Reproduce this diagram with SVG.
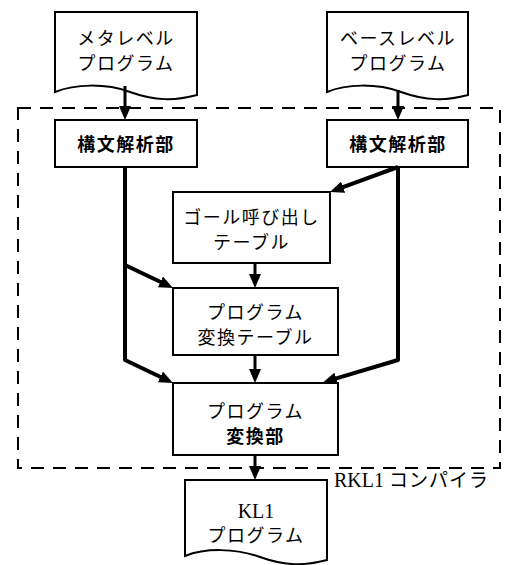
<svg xmlns="http://www.w3.org/2000/svg" width="505" height="565" viewBox="0 0 505 565">
<style>
.shape{fill:#fff;stroke:#000;stroke-width:2}
.jp{font-family:"Noto Sans CJK JP","Noto Sans",sans-serif;font-size:18px;text-anchor:middle;fill:#000;letter-spacing:1.5px}
.b{font-weight:bold}
.rm{font-family:"Liberation Serif",serif;font-size:20px;fill:#000}
.thick{fill:none;stroke:#000;stroke-width:4;stroke-linejoin:round}
.thin{fill:none;stroke:#000;stroke-width:3}
</style>
<defs>
<marker id="ah" markerUnits="userSpaceOnUse" markerWidth="14" markerHeight="12" refX="6" refY="6" orient="auto">
<path d="M0,0 L14,6 L0,12 z" fill="#000"/>
</marker>
</defs>
<rect id="compiler" x="18" y="108" width="482" height="360" fill="none" stroke="#000" stroke-width="2" stroke-dasharray="13 9"/>
<g id="doc-meta">
<path class="shape" d="M55,12 H197 V95 C175,101 155,101 130,92 C105,83 75,84 55,92 Z"/>
<text class="jp" x="126" y="45">メタレベル</text>
<text class="jp" x="126" y="70">プログラム</text>
</g>
<g id="doc-base">
<path class="shape" d="M327,12 H468 V95 C446,101 426,101 401,92 C376,83 346,84 327,92 Z"/>
<text class="jp" x="398" y="45">ベースレベル</text>
<text class="jp" x="398" y="70">プログラム</text>
</g>
<g id="parser-left">
<rect class="shape" x="55" y="120" width="142" height="47"/>
<text class="jp b" x="126" y="151">構文解析部</text>
</g>
<g id="parser-right">
<rect class="shape" x="327" y="120" width="141" height="47"/>
<text class="jp b" x="398" y="151">構文解析部</text>
</g>
<g id="goal-table">
<rect class="shape" x="173" y="192" width="157" height="71"/>
<text class="jp" x="251.5" y="224">ゴール呼び出し</text>
<text class="jp" x="251.5" y="249">テーブル</text>
</g>
<g id="conv-table">
<rect class="shape" x="173" y="288" width="165" height="67"/>
<text class="jp" x="255.5" y="319">プログラム</text>
<text class="jp" x="255.5" y="344">変換テーブル</text>
</g>
<g id="converter">
<rect class="shape" x="173" y="383" width="165" height="72"/>
<text class="jp" x="255.5" y="418">プログラム</text>
<text class="jp b" x="255.5" y="443">変換部</text>
</g>
<g id="doc-kl1">
<path class="shape" d="M185,480 H327 V560 C305,566 285,566 260,557 C235,548 205,548 185,556 Z"/>
<text class="rm" x="256" y="518" text-anchor="middle">KL1</text>
<text class="jp" x="256" y="542">プログラム</text>
</g>
<text id="compiler-label" x="334" y="487"><tspan class="rm">RKL1 </tspan><tspan font-family="'Noto Sans CJK JP',sans-serif" font-size="19" letter-spacing="1">コンパイラ</tspan></text>
<g id="connectors">
<path class="thin" d="M125,86 V112" marker-end="url(#ah)"/>
<path class="thin" d="M398,90 V112" marker-end="url(#ah)"/>
<path class="thick" d="M398,167 L337.5,189.2" marker-end="url(#ah)"/>
<path class="thick" d="M398,167 V360 L330.5,380.1" marker-end="url(#ah)"/>
<path class="thick" d="M125,167 V360 L165.8,379.5" marker-end="url(#ah)"/>
<path class="thick" d="M125,265 L165.8,284.5" marker-end="url(#ah)"/>
<path class="thin" d="M255,263 V280" marker-end="url(#ah)"/>
<path class="thin" d="M255,355 V375" marker-end="url(#ah)"/>
<path class="thin" d="M255,455 V472" marker-end="url(#ah)"/>
</g>
</svg>
